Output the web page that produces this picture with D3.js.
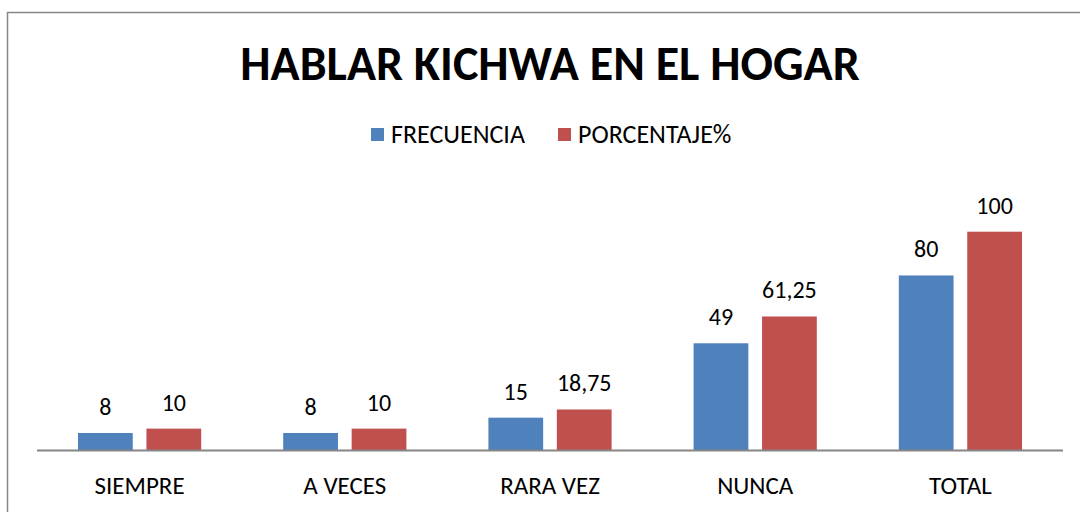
<!DOCTYPE html>
<html>
<head>
<meta charset="utf-8">
<script src="https://cdn.jsdelivr.net/npm/d3@7"></script>
<style>
  body { margin: 0; background: #fff; }
  text { font-family: Carlito, Lato, "Open Sans", sans-serif; }
</style>
</head>
<body>
<div id="chart"></div>
<script>
const categories = ['SIEMPRE', 'A VECES', 'RARA VEZ', 'NUNCA', 'TOTAL'];
const seriesNames = ['FRECUENCIA', 'PORCENTAJE%'];
const frecuencia = [8, 8, 15, 49, 80];
const porcentaje = [10, 10, 18.75, 61.25, 100];
const seriesColors = ['#4F81BD', '#C0504D'];

const width = 1080;
const height = 512;
const baseY = 450.5;

const rows = categories.map((c, i) => ({
  category: c,
  values: [frecuencia[i], porcentaje[i]]
}));

const svg = d3.select('#chart')
  .append('svg')
  .attr('width', width)
  .attr('height', height);

// chart border (right and bottom are cut off in the reference)
svg.append('rect')
  .attr('x', 7.5)
  .attr('y', 12.5)
  .attr('width', 1200)
  .attr('height', 600)
  .attr('fill', 'none')
  .attr('stroke', '#868686')
  .attr('stroke-width', 1.5);

const x0 = d3.scaleBand()
  .domain(categories)
  .range([37, 1063]);

const x1 = d3.scaleBand()
  .domain(seriesNames)
  .range([41, x0.bandwidth() - 41])
  .paddingInner(0.2);

const y = d3.scaleLinear()
  .domain([0, 100])
  .range([baseY, 231.7]);

const fmt = v => String(v).replace('.', ',');

const groups = svg.selectAll('.group')
  .data(rows)
  .enter()
  .append('g')
  .attr('class', 'group')
  .attr('transform', d => `translate(${x0(d.category)},0)`);

const bars = groups.selectAll('.bar')
  .data(d => d.values.map((v, i) => ({ series: seriesNames[i], value: v, idx: i })))
  .enter();

bars.append('rect')
  .attr('x', d => x1(d.series))
  .attr('y', d => y(d.value))
  .attr('width', x1.bandwidth())
  .attr('height', d => baseY - y(d.value))
  .attr('fill', d => seriesColors[d.idx]);

bars.append('text')
  .attr('x', d => x1(d.series) + x1.bandwidth() / 2)
  .attr('y', d => y(d.value) - 18)
  .attr('text-anchor', 'middle')
  .style('font-size', '24px')
  .style('fill', '#000')
  .text(d => fmt(d.value));

// category axis line
svg.append('line')
  .attr('x1', 37)
  .attr('x2', 1063)
  .attr('y1', baseY)
  .attr('y2', baseY)
  .attr('stroke', '#868686')
  .attr('stroke-width', 2);

svg.selectAll('.cat')
  .data(categories)
  .enter()
  .append('text')
  .attr('x', d => x0(d) + x0.bandwidth() / 2)
  .attr('y', 494)
  .attr('text-anchor', 'middle')
  .style('font-size', '25px')
  .style('fill', '#000')
  .text(d => d);

// title
svg.append('text')
  .attr('x', 550)
  .attr('y', 80)
  .attr('text-anchor', 'middle')
  .style('font-size', '48px')
  .style('font-weight', 'bold')
  .style('fill', '#000')
  .text('HABLAR KICHWA EN EL HOGAR');

// legend
const legendX = [371, 558];
const legend = svg.selectAll('.legend')
  .data(seriesNames)
  .enter()
  .append('g')
  .attr('class', 'legend')
  .attr('transform', (d, i) => `translate(${legendX[i]},128)`);

legend.append('rect')
  .attr('width', 13)
  .attr('height', 13)
  .attr('fill', (d, i) => seriesColors[i]);

legend.append('text')
  .attr('x', 20)
  .attr('y', 15)
  .style('font-size', '26px')
  .style('fill', '#000')
  .text(d => d);
</script>
</body>
</html>
